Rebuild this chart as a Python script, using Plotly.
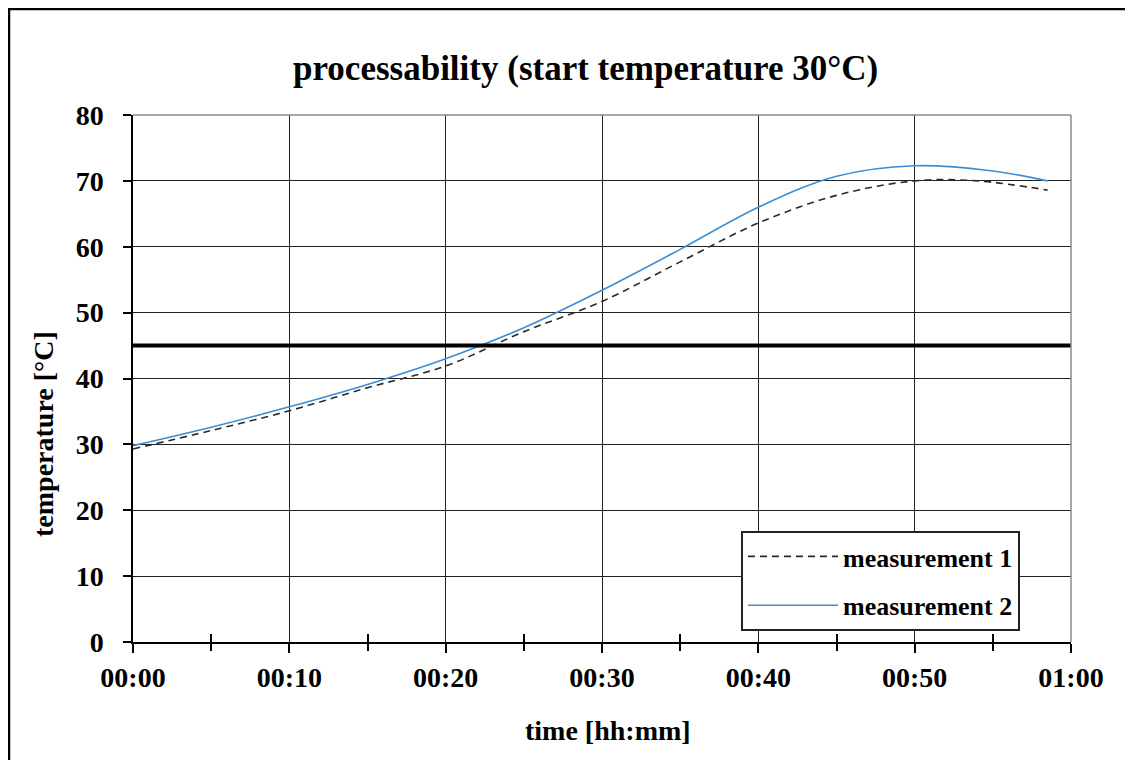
import plotly.graph_objects as go

# ---- data ----
minutes_m1 = [0, 5, 10, 15, 20, 25, 30, 35, 40, 45, 50, 54, 58.5]
temp_m1 = [29.3, 32.1, 35.1, 38.6, 41.9, 47.1, 51.7, 57.7, 63.6, 67.8, 70.0, 70.0, 68.6]
minutes_m2 = [0, 5, 10, 15, 20, 25, 30, 35, 40, 45, 50, 55, 58.5]
temp_m2 = [29.8, 32.6, 35.7, 39.1, 43.0, 47.7, 53.4, 59.6, 66.0, 70.7, 72.3, 71.5, 70.0]
threshold = 45
x_tick_vals = [0, 10, 20, 30, 40, 50, 60]
x_tick_text = ["00:00", "00:10", "00:20", "00:30", "00:40", "00:50", "01:00"]
x_minor_vals = [5, 15, 25, 35, 45, 55]
series_names = ["measurement 1", "measurement 2"]
title_text = "processability (start temperature 30°C)"
x_title = "time [hh:mm]"
y_title = "temperature [°C]"

# page has an 8px body margin
OFF = 8
W, H = 1133 - OFF, 760 - OFF
PL, PR, PT, PB = 133, 1071, 115, 642   # plot area in screen px
L, T = PL - OFF, PT - OFF
R = W - (PR - OFF)
B = H - (PB - OFF)
pw, ph = PR - PL, PB - PT

def px_x(p):
    return (p - PL) / pw

def px_y(p):
    return (PB - p) / ph

FONT = "Liberation Serif, Times New Roman, serif"

fig = go.Figure()
fig.add_trace(go.Scatter(
    x=minutes_m1, y=temp_m1, mode="lines", name=series_names[0],
    line=dict(color="#2a2a2a", width=1.6, dash="7px,5px", shape="spline", smoothing=1),
    legendgroup="a"))
fig.add_trace(go.Scatter(
    x=minutes_m2, y=temp_m2, mode="lines", name=series_names[1],
    line=dict(color="#3a8ed6", width=1.6, shape="spline", smoothing=1),
    legendgroup="b"))
fig.add_trace(go.Scatter(x=[], y=[], xaxis="x2", showlegend=False, hoverinfo="skip"))

fig.update_layout(
    width=W, height=H,
    margin=dict(l=L, r=R, t=T, b=B),
    paper_bgcolor="white", plot_bgcolor="white",
    font=dict(family=FONT, color="black"),
    showlegend=True,
    legend=dict(
        x=px_x(741), y=px_y(531), xanchor="left", yanchor="top",
        bgcolor="white", bordercolor="#222", borderwidth=2,
        font=dict(family=FONT, size=26, color="black"),
        tracegroupgap=12, itemwidth=90,
    ),
    xaxis=dict(
        range=[0, 60], tickvals=x_tick_vals, ticktext=x_tick_text,
        showgrid=True, gridcolor="#222", gridwidth=1.2,
        showline=True, linecolor="black", linewidth=1.5,
        ticks="outside", ticklen=9, tickcolor="black", tickwidth=1.5,
        tickfont=dict(family=FONT, size=28, color="black", weight="bold"),
        ticklabelstandoff=1,
        minor=dict(tickvals=x_minor_vals, ticks="outside", ticklen=7,
                   tickcolor="black", tickwidth=1.5, showgrid=False),
        zeroline=False, fixedrange=True,
    ),
    xaxis2=dict(
        range=[0, 60], overlaying="x", anchor="y", side="bottom",
        tickvals=x_minor_vals, ticks="inside", ticklen=8, tickcolor="black",
        tickwidth=1.5, showticklabels=False, showgrid=False, showline=False,
        zeroline=False,
    ),
    yaxis=dict(
        range=[0, 80], dtick=10, tick0=0,
        showgrid=True, gridcolor="#222", gridwidth=1.2,
        showline=True, linecolor="black", linewidth=1.5,
        ticks="outside", ticklen=8, tickcolor="black", tickwidth=1.5,
        tickfont=dict(family=FONT, size=28, color="black", weight="bold"),
        ticklabelstandoff=14,
        zeroline=False, fixedrange=True,
    ),
    shapes=[
        dict(type="line", xref="paper", yref="y", x0=0, x1=1, y0=threshold, y1=threshold,
             line=dict(color="black", width=4), layer="above"),
        dict(type="line", xref="paper", yref="paper", x0=0, x1=1, y0=1, y1=1,
             line=dict(color="#8a8a8a", width=1.5), layer="above"),
        dict(type="line", xref="paper", yref="paper", x0=1, x1=1, y0=0, y1=1,
             line=dict(color="#8a8a8a", width=1.5), layer="above"),
        dict(type="rect", xref="paper", yref="paper",
             x0=px_x(9), x1=px_x(1300), y0=px_y(900), y1=px_y(9),
             line=dict(color="black", width=2.5), layer="above"),
    ],
    annotations=[
        dict(text="<b>" + title_text + "</b>", xref="paper", yref="paper",
             x=px_x(585), y=px_y(68), xanchor="center", yanchor="middle",
             showarrow=False, font=dict(family=FONT, size=35, color="black")),
        dict(text="<b>" + x_title + "</b>", xref="paper", yref="paper",
             x=px_x(608), y=px_y(730), xanchor="center", yanchor="middle",
             showarrow=False, font=dict(family=FONT, size=28, color="black")),
        dict(text="<b>" + y_title + "</b>", xref="paper", yref="paper",
             x=px_x(44), y=px_y(434), xanchor="center", yanchor="middle",
             textangle=-90, showarrow=False, font=dict(family=FONT, size=28, color="black")),
    ],
)
fig.for_each_trace(lambda t: t.update(name="<b>" + t.name + "</b>") if t.name else None)

fig.write_html("out.html")
